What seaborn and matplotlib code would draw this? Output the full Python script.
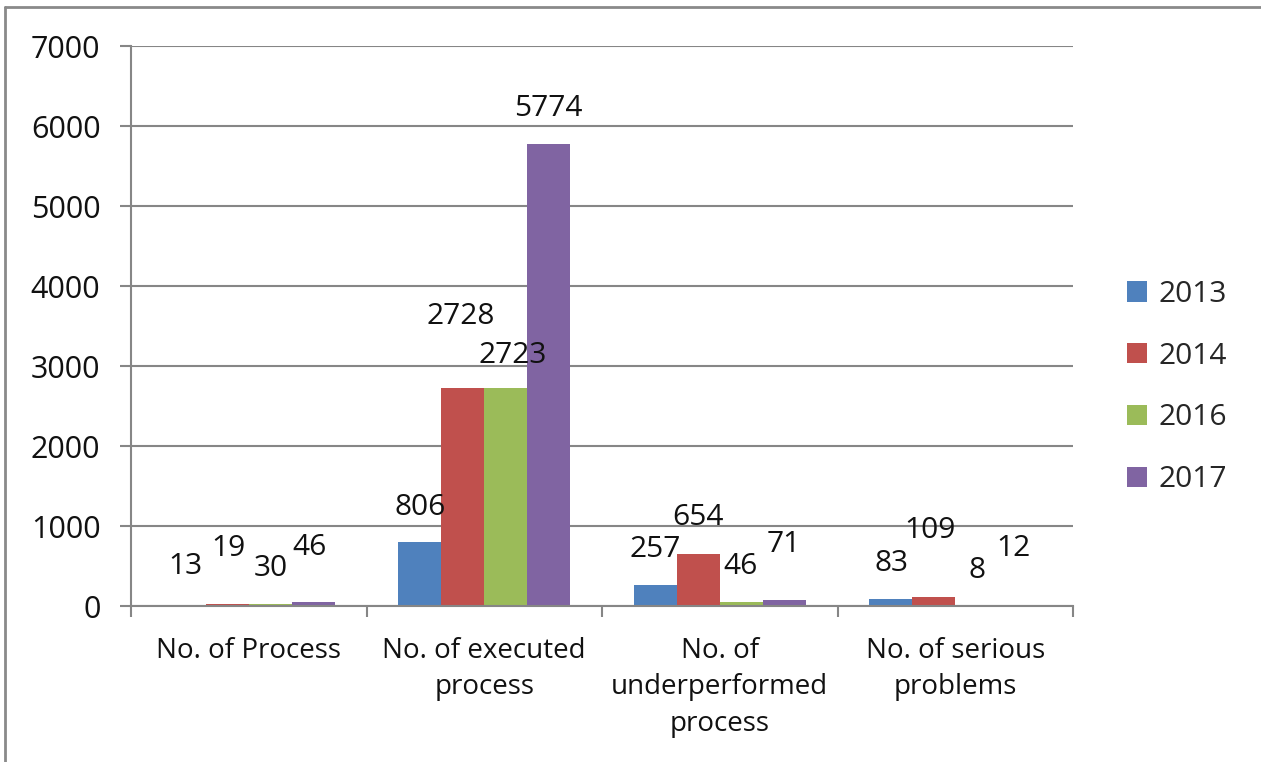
import matplotlib
matplotlib.use("Agg")
import matplotlib.pyplot as plt
import seaborn as sns
import pandas as pd
from matplotlib.lines import Line2D
from matplotlib.ticker import FixedLocator

# ---- data ----
categories = ["No. of Process", "No. of executed\nprocess",
              "No. of\nunderperformed\nprocess", "No. of serious\nproblems"]
years = ["2013", "2014", "2016", "2017"]
v2013 = [13, 806, 257, 83]
v2014 = [19, 2728, 654, 109]
v2016 = [30, 2723, 46, 8]
v2017 = [46, 5774, 71, 12]
y_ticks = [0, 1000, 2000, 3000, 4000, 5000, 6000, 7000]

colors = ["#4F81BD", "#C0504D", "#9BBB59", "#8064A2"]

# label nudges (pixels: dx, rise above bar top)
label_nudge = {
    "2013": [(1.5, 38), (0, 34.5), (0, 36), (0.5, 36)],
    "2014": [(1.5, 56), (-2, 71), (0, 36), (-3.5, 67)],
    "2016": [(0.5, 35), (7, 33), (-1, 36), (0.5, 35)],
    "2017": [(-3.5, 55), (0, 36), (0, 56), (-6.5, 57)],
}

rows = []
for y, vals in zip(years, [v2013, v2014, v2016, v2017]):
    for c, v in zip(categories, vals):
        rows.append({"category": c, "year": y, "value": v})
df = pd.DataFrame(rows)

sns.set_theme(style="white")
plt.rcParams["font.family"] = ["Open Sans", "DejaVu Sans"]

W, H = 1261, 762
fig = plt.figure(figsize=(W / 100, H / 100), dpi=100)
ax = fig.add_axes([131 / W, 1 - 606 / H, (1073 - 131) / W, (606 - 46) / H])

sns.barplot(data=df, x="category", y="value", hue="year", order=categories,
            hue_order=years, palette=colors, saturation=1, width=0.73,
            gap=0, ax=ax, errorbar=None, linewidth=0)

ax.set_xlim(-0.5, 3.5)
ax.set_ylim(0, 7000)
ax.set_yticks(y_ticks)
ax.set_yticklabels([str(t) for t in y_ticks], fontsize=22, color="#111111")
ax.set_xticks(range(len(categories)))
ax.set_xticklabels(categories, fontsize=20, color="#111111", linespacing=1.42)
ax.xaxis.set_minor_locator(FixedLocator([-0.5, 0.5, 1.5, 2.5, 3.5]))
ax.tick_params(axis="x", which="major", length=0, pad=22)
ax.tick_params(axis="x", which="minor", length=8, width=1.5, color="#868686",
               direction="out", bottom=True)
ax.tick_params(axis="y", length=8, width=1.5, color="#868686", direction="out",
               left=True, pad=14)
ax.set_xlabel("")
ax.set_ylabel("")

ax.yaxis.grid(True, color="#868686", linewidth=1.5)
ax.set_axisbelow(True)
for s in ["top", "right"]:
    ax.spines[s].set_visible(False)
for s in ["left", "bottom"]:
    ax.spines[s].set_color("#868686")
    ax.spines[s].set_linewidth(1.5)

# data labels
for yi, cont in enumerate(ax.containers):
    yr = years[yi]
    for ci, bar in enumerate(cont):
        dx, rise = label_nudge[yr][ci]
        h = bar.get_height()
        ax.annotate(f"{int(h)}", xy=(bar.get_x() + bar.get_width() / 2, h),
                    xytext=(dx * 0.72, rise * 0.72), textcoords="offset points",
                    ha="center", va="center", fontsize=21.5, color="#111111")

# legend
handles, labels = ax.get_legend_handles_labels()
if ax.legend_:
    ax.legend_.remove()
fig.legend(handles, labels, loc="center left",
           bbox_to_anchor=(1127 / W, 1 - 387 / H), frameon=False,
           fontsize=21.5, handlelength=0.68, handleheight=0.68,
           handletextpad=0.38, labelspacing=1.1, borderpad=0,
           borderaxespad=0)

# figure border (top and left)
fig.add_artist(Line2D([5 / W, 1.0], [1 - 7 / H, 1 - 7 / H], color="#8a8a8a",
                      linewidth=2, transform=fig.transFigure))
fig.add_artist(Line2D([5 / W, 5 / W], [0, 1 - 7 / H], color="#8a8a8a",
                      linewidth=2, transform=fig.transFigure))

fig.savefig("out.png", dpi=100, facecolor="white")
